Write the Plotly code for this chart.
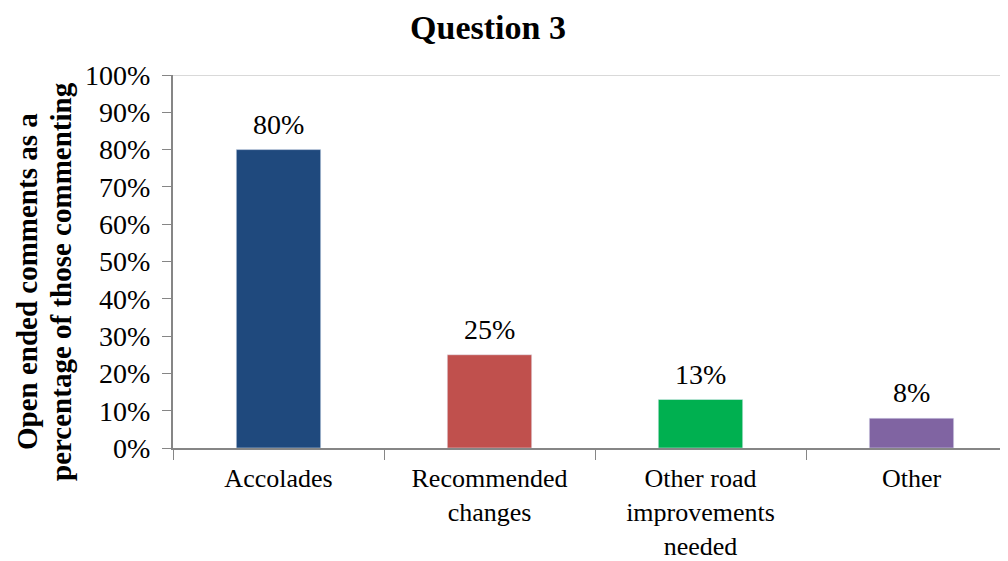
import plotly.graph_objects as go

categories = ["Accolades", "Recommended<br>changes", "Other road<br>improvements<br>needed", "Other"]
values = [0.80, 0.25, 0.13, 0.08]
labels = ["80%", "25%", "13%", "8%"]
colors = ["#1F497D", "#C0504D", "#00B050", "#8064A2"]
y_ticks = [i / 10 for i in range(11)]
y_tick_text = [f"{i * 10}%" for i in range(11)]
y_title_lines = ["Open ended comments as a", "percentage of those commenting"]

FONT = "Liberation Serif, Times New Roman, serif"

# page body has an 8px default margin; compensate so the plot lands where the reference has it
OFF = 8
L, T, B_Y = 173 - OFF, 75 - OFF, 448 - OFF
W, H = 1008, 561
CAT_W = 211

fig = go.Figure()
fig.add_trace(go.Bar(
    x=categories, y=values, marker_color=colors, width=0.40,
    hoverinfo="skip",
))

for c, v, t in zip(categories, values, labels):
    fig.add_annotation(x=c, y=v, text=t, showarrow=False, xanchor="center", yanchor="bottom",
                       yshift=8, font=dict(family=FONT, size=28, color="black"))

fig.update_layout(
    width=W, height=H,
    margin=dict(l=L, r=0, t=T, b=H - B_Y),
    paper_bgcolor="white", plot_bgcolor="white",
    showlegend=False,
    font=dict(family=FONT, size=27, color="black"),
    title=dict(text="<b>Question 3</b>", x=(488 - OFF) / W, xanchor="center",
               y=1 - (27 - OFF) / H, yanchor="middle",
               font=dict(family=FONT, size=34, color="black")),
)

fig.update_xaxes(
    type="category", range=[-0.5, -0.5 + (W - L) / CAT_W], automargin=False,
    showline=True, linecolor="#868686", linewidth=2,
    ticks="outside", tickson="boundaries", ticklen=10, tickcolor="#868686", tickwidth=1,
    showgrid=False, tickfont=dict(family=FONT, size=26, color="black"),
    ticklabelstandoff=6,
)
fig.update_yaxes(
    range=[0, 1], tickvals=y_ticks, ticktext=y_tick_text, automargin=False,
    showline=True, linecolor="#868686", linewidth=2,
    ticks="outside", ticklen=9, tickcolor="#868686", tickwidth=1,
    showgrid=False, zeroline=False,
    tickfont=dict(family=FONT, size=28, color="black"),
    ticklabelstandoff=6,
)

fig.add_shape(type="line", xref="paper", yref="y", x0=0, x1=1, y0=y_ticks[-1], y1=y_ticks[-1],
              line=dict(color="#D9D9D9", width=2), layer="below")

for xpx, line in zip([27, 61], y_title_lines):
    fig.add_annotation(
        text=f"<b>{line}</b>", xref="paper", yref="paper",
        x=(xpx - OFF - L) / (W - L), y=(448 - 282) / (448 - 75),
        xanchor="center", yanchor="middle", textangle=-90, showarrow=False,
        font=dict(family=FONT, size=29, color="black"),
    )

fig.write_html("out.html")
